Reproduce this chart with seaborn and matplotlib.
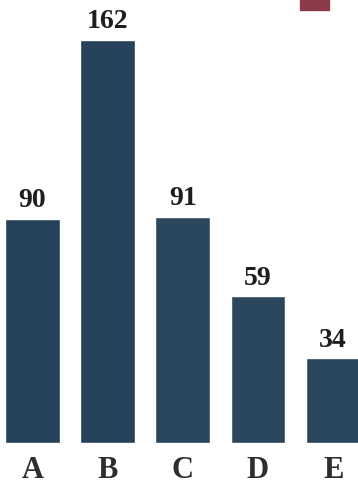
import matplotlib
matplotlib.use("Agg")
import matplotlib.pyplot as plt
import seaborn as sns
import pandas as pd
from matplotlib.patches import Rectangle

categories = ["A", "B", "C", "D", "E"]
values = [90, 162, 91, 59, 34]
bar_colors = ["#26425a", "#26425a", "#2a475d", "#2a475d", "#2a475d"]

sns.set_theme(style="white")
plt.rcParams["font.family"] = ["Liberation Serif", "DejaVu Serif"]

df = pd.DataFrame({"cat": categories, "val": values})

fig = plt.figure(figsize=(3.58, 4.84), dpi=100)
ax = fig.add_axes([0, (484 - 443) / 484, 1, 443 / 484])
sns.barplot(data=df, x="cat", y="val", hue="cat", palette=bar_colors,
            width=0.73, legend=False, ax=ax, saturation=1)

ax.set_xlim(-0.43, 4.33)
ax.set_ylim(0, 178)
for s in ax.spines.values():
    s.set_visible(False)
ax.set_yticks([])
ax.set_xlabel("")
ax.set_ylabel("")
ax.tick_params(axis="x", length=0, pad=9, labelsize=22, colors="#2e2e2e")
for t in ax.get_xticklabels():
    t.set_fontweight("bold")

for i, v in enumerate(values):
    ax.annotate(str(v), (i, v), xytext=(0, 4), textcoords="offset points",
                ha="center", va="bottom", fontsize=20, fontweight="bold",
                color="#1e1e1e")

fig.patches.append(Rectangle((300 / 358, 1 - 10 / 484), 29 / 358, 12 / 484,
                             transform=fig.transFigure, color="#8b3a4a"))

fig.savefig("out.png", dpi=100)
